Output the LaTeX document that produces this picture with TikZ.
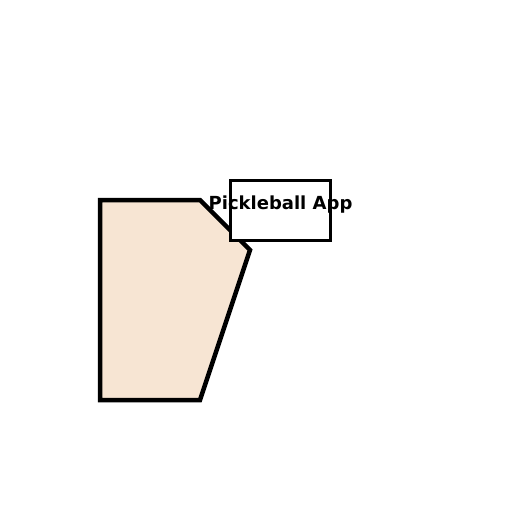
\documentclass[tikz,border=0pt]{standalone}
\usepackage{fontspec}
\setmainfont{DejaVu Sans}
\definecolor{padfill}{HTML}{F7E5D3}
\begin{document}
\begin{tikzpicture}[x=1pt,y=-1pt,
  paddle/.style={draw=black,line width=4.5pt,fill=padfill,line join=miter},
  labelbox/.style={draw=black,line width=3pt,fill=white,minimum width=100pt,minimum height=60pt,inner sep=0pt},
  labeltext/.style={font=\fontsize{18}{20}\selectfont\bfseries,inner sep=0pt}]
\useasboundingbox (0,0) rectangle (512,512);
\draw[paddle] (100,200) -- (200,200) -- (250,250) -- (200,400) -- (100,400) -- cycle;
\node[labelbox] (box) at (280,210) {};
\node[labeltext] (lbl) at (280.5,204.5) {Pickleball App};
\end{tikzpicture}
\end{document}
